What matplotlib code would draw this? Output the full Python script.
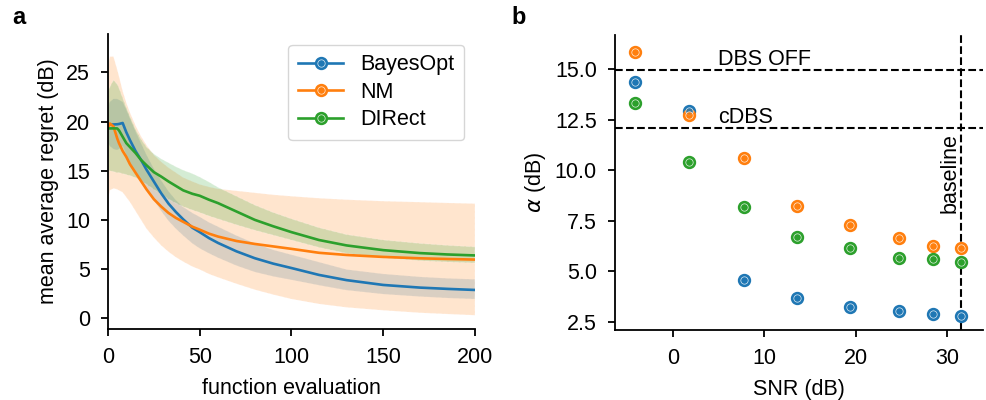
"""
Two-panel figure: (a) regret curves of the optimisers vs function evaluations,
(b) alpha vs SNR for each optimiser with DBS OFF / cDBS / baseline references.
"""

import matplotlib

matplotlib.use("Agg")
import matplotlib.pyplot as plt
from matplotlib.legend_handler import HandlerTuple
from matplotlib.lines import Line2D

plt.rcParams["font.family"] = ["Liberation Sans", "DejaVu Sans"]
plt.rcParams["font.size"] = 15.5

# --- Panel a data ----------------------------------------------------------
evals = [0, 1, 3, 5, 6, 8, 10, 12, 15, 18, 21, 25, 29, 33, 37, 41, 46, 50, 55,
         60, 70, 80, 90, 100, 115, 130, 150, 170, 185, 200]

bayes_mean = [19.66, 19.68, 19.7, 19.72, 19.75, 19.85, 18.9, 18.1, 17.0, 16.1,
              15.1, 13.9, 12.7, 11.65, 10.8, 10.05, 9.2, 8.75, 8.15, 7.65, 6.8,
              6.1, 5.55, 5.1, 4.4, 3.87, 3.38, 3.11, 2.98, 2.87]
bayes_lo = [17.8, 17.5, 17.2, 17.1, 17.2, 17.5, 16.6, 15.8, 14.8, 14.0, 13.1,
            12.0, 10.9, 9.9, 9.1, 8.4, 7.6, 7.1, 6.6, 6.15, 5.35, 4.7, 4.25,
            3.9, 3.35, 2.85, 2.45, 2.2, 2.05, 1.95]
bayes_hi = [21.5, 22.0, 22.3, 22.3, 22.2, 22.0, 21.2, 20.3, 19.0, 17.8, 16.6,
            15.2, 14.0, 12.9, 12.0, 11.3, 10.7, 10.3, 9.75, 9.3, 8.4, 7.6, 6.95,
            6.45, 5.7, 4.95, 4.5, 4.2, 4.05, 3.95]

nm_mean = [19.3, 19.8, 19.5, 18.3, 17.8, 17.0, 16.4, 15.65, 14.8, 13.95, 13.1,
           12.1, 11.35, 10.7, 10.2, 9.8, 9.3, 9.0, 8.6, 8.3, 7.85, 7.55, 7.3,
           7.05, 6.65, 6.43, 6.23, 6.09, 6.02, 5.96]
nm_lo = [12.0, 13.0, 13.2, 13.1, 13.0, 12.8, 12.3, 11.8, 10.9, 10.0, 9.1, 8.2,
         7.4, 6.75, 6.2, 5.75, 5.25, 4.95, 4.5, 4.15, 3.5, 2.9, 2.4, 1.95,
         1.45, 1.1, 0.8, 0.55, 0.42, 0.3]
nm_hi = [25.5, 26.6, 26.6, 25.3, 24.6, 23.1, 21.9, 20.9, 19.6, 18.5, 17.6,
         16.6, 15.9, 15.3, 14.8, 14.3, 13.9, 13.6, 13.35, 13.15, 12.95, 12.75,
         12.55, 12.4, 12.2, 12.05, 11.9, 11.8, 11.72, 11.65]

direct_mean = [19.3, 19.3, 19.3, 19.3, 19.1, 18.45, 17.8, 17.4, 16.8, 16.1,
               15.55, 14.85, 14.4, 13.9, 13.45, 13.0, 12.65, 12.45, 12.05,
               11.7, 10.85, 10.0, 9.35, 8.75, 7.95, 7.4, 6.92, 6.62, 6.48, 6.38]
direct_lo = [15.0, 15.0, 14.9, 14.8, 14.8, 14.7, 14.6, 14.5, 14.3, 14.0, 13.6,
             13.1, 12.6, 12.1, 11.7, 11.35, 11.0, 10.75, 10.4, 10.1, 9.5, 8.95,
             8.45, 7.95, 7.2, 6.6, 6.15, 5.85, 5.72, 5.62]
direct_hi = [23.0, 23.5, 24.2, 23.8, 23.4, 22.4, 21.4, 20.5, 19.2, 18.2, 17.4,
             16.7, 16.2, 15.8, 15.4, 15.05, 14.7, 14.35, 13.85, 13.3, 12.4,
             11.5, 10.75, 10.1, 9.2, 8.5, 7.95, 7.6, 7.4, 7.25]

# --- Panel b data ----------------------------------------------------------
snr = [-4.2, 1.8, 7.8, 13.6, 19.4, 24.8, 28.5, 31.6]
alpha_bayes = [14.37, 12.94, 4.58, 3.67, 3.22, 3.06, 2.9, 2.8]
alpha_nm = [15.85, 12.73, 10.62, 8.25, 7.29, 6.65, 6.25, 6.14]
alpha_direct = [13.34, 10.42, 8.2, 6.72, 6.14, 5.68, 5.6, 5.45]

dbs_off = 14.95
cdbs = 12.12
baseline_snr = 31.6

methods = ["BayesOpt", "NM", "DIRect"]
colors = ["#1f77b4", "#ff7f0e", "#2ca02c"]


def style_axes(ax):
    ax.spines["top"].set_visible(False)
    ax.spines["right"].set_visible(False)
    for s in ("left", "bottom"):
        ax.spines[s].set_linewidth(1.3)
    ax.tick_params(width=1.3, length=5, labelsize=15.5, pad=8)
    ax.xaxis.labelpad = 7
    ax.yaxis.labelpad = 5


def dot(ax, x, y, color, big=8.6, small=5.3):
    # filled dot with a thin white ring inside
    ax.plot(x, y, ls="none", marker="o", ms=big, mfc=color, mec=color, zorder=3)
    ax.plot(x, y, ls="none", marker="o", ms=small, mfc=color, mec="white",
            mew=0.5, alpha=0.85, zorder=4)


fig = plt.figure(figsize=(9.87, 4.0), dpi=100)
ax_a = fig.add_axes([0.1094, 0.1775, 0.3718, 0.7375])
ax_b = fig.add_axes([0.6231, 0.175, 0.3728, 0.7375])

# --- a ---------------------------------------------------------------------
series = [(bayes_mean, bayes_lo, bayes_hi),
          (nm_mean, nm_lo, nm_hi),
          (direct_mean, direct_lo, direct_hi)]
for (mean, lo, hi), c in zip(series, colors):
    ax_a.fill_between(evals, lo, hi, facecolor=c, alpha=0.2,
                      edgecolor="white", linestyle="--", linewidth=0.8)
for (mean, lo, hi), c in zip(series, colors):
    ax_a.plot(evals, mean, color=c, lw=1.9)

ax_a.set_xlim(0, 200)
ax_a.set_ylim(-1.1, 28.9)
ax_a.set_xticks([0, 50, 100, 150, 200])
ax_a.set_yticks([0, 5, 10, 15, 20, 25])
ax_a.set_xlabel("function evaluation")
ax_a.set_ylabel("mean average regret (dB)")
style_axes(ax_a)

handles = []
for c in colors:
    big = Line2D([], [], color=c, lw=1.9, marker="o", ms=8.6, mfc=c, mec=c)
    small = Line2D([], [], ls="none", marker="o", ms=5.3, mfc=c, mec="white",
                   mew=0.5, alpha=0.85)
    handles.append((big, small))
ax_a.legend(handles, methods, loc="upper right", handlelength=2.1,
            handler_map={tuple: HandlerTuple(ndivide=1)},
            fontsize=15.5, borderpad=0.45, labelspacing=0.3,
            framealpha=0.8, edgecolor="#cccccc")

# --- b ---------------------------------------------------------------------
ax_b.axhline(dbs_off, color="black", ls="--", lw=1.5, zorder=2)
ax_b.axhline(cdbs, color="black", ls="--", lw=1.5, zorder=2)
ax_b.axvline(baseline_snr, color="black", ls="--", lw=1.5, zorder=2)
ax_b.text(4.9, dbs_off, "DBS OFF", ha="left", va="bottom", fontsize=15.5)
ax_b.text(4.9, cdbs, "cDBS", ha="left", va="bottom", fontsize=15.5)
ax_b.text(baseline_snr - 0.15, 9.85, "baseline", rotation=90, ha="right",
          va="center", fontsize=15.5)

for vals, c in zip([alpha_bayes, alpha_nm, alpha_direct], colors):
    dot(ax_b, snr, vals, c)

ax_b.set_xlim(-6.35, 33.95)
ax_b.set_ylim(2.1, 16.7)
ax_b.set_xticks([0, 10, 20, 30])
ax_b.set_yticks([2.5, 5.0, 7.5, 10.0, 12.5, 15.0])
ax_b.set_xlabel("SNR (dB)")
ax_b.set_ylabel(r"$\alpha$ (dB)")
style_axes(ax_b)

fig.text(0.012, 0.955, "a", fontsize=17, fontweight="bold", va="center")
fig.text(0.518, 0.955, "b", fontsize=17, fontweight="bold", va="center")

fig.savefig("out.png", dpi=100)
